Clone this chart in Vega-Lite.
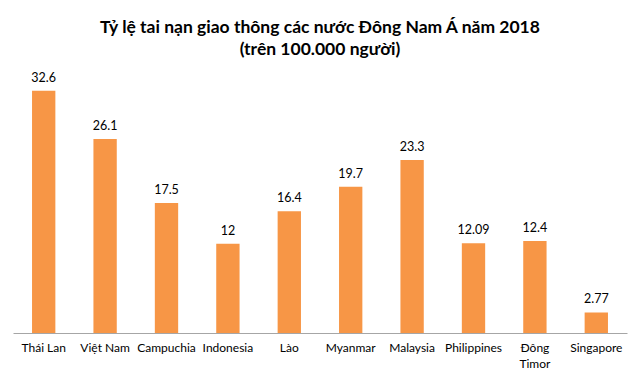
{
  "$schema": "https://vega.github.io/schema/vega-lite/v6.json",
  "width": 614,
  "height": 260,
  "autosize": "none",
  "padding": {"left": 13, "top": 73, "right": 12, "bottom": 51},
  "background": "white",
  "title": {
    "text": ["Tỷ lệ tai nạn giao thông các nước Đông Nam Á năm 2018", "(trên 100.000 người)"],
    "font": "Lato",
    "fontSize": 17.5,
    "fontWeight": "bold",
    "color": "#000000",
    "lineHeight": 22,
    "anchor": "middle",
    "offset": 13
  },
  "data": {
    "values": [
      {"country": "Thái Lan", "rate": 32.6},
      {"country": "Việt Nam", "rate": 26.1},
      {"country": "Campuchia", "rate": 17.5},
      {"country": "Indonesia", "rate": 12},
      {"country": "Lào", "rate": 16.4},
      {"country": "Myanmar", "rate": 19.7},
      {"country": "Malaysia", "rate": 23.3},
      {"country": "Philippines", "rate": 12.09},
      {"country": "Đông Timor", "rate": 12.4},
      {"country": "Singapore", "rate": 2.77}
    ]
  },
  "encoding": {
    "x": {
      "field": "country",
      "type": "nominal",
      "sort": null,
      "scale": {"paddingInner": 0.62, "paddingOuter": 0.31},
      "axis": {
        "title": null,
        "labelAngle": 0,
        "labelFont": "Lato",
        "labelFontSize": 12,
        "labelColor": "#000000",
        "labelPadding": 9,
        "labelLineHeight": 16,
        "ticks": false,
        "domainColor": "#A6A6A6",
        "labelExpr": "datum.label == 'Đông Timor' ? ['Đông', 'Timor'] : datum.label"
      }
    },
    "y": {
      "field": "rate",
      "type": "quantitative",
      "scale": {"domain": [0, 35]},
      "axis": null
    }
  },
  "layer": [
    {"mark": {"type": "bar", "color": "#F79646"}},
    {
      "mark": {"type": "text", "baseline": "bottom", "dy": -6, "font": "Lato", "fontSize": 12.5, "color": "#000000"},
      "encoding": {"text": {"field": "rate", "type": "nominal"}}
    }
  ],
  "config": {"view": {"stroke": null}}
}
